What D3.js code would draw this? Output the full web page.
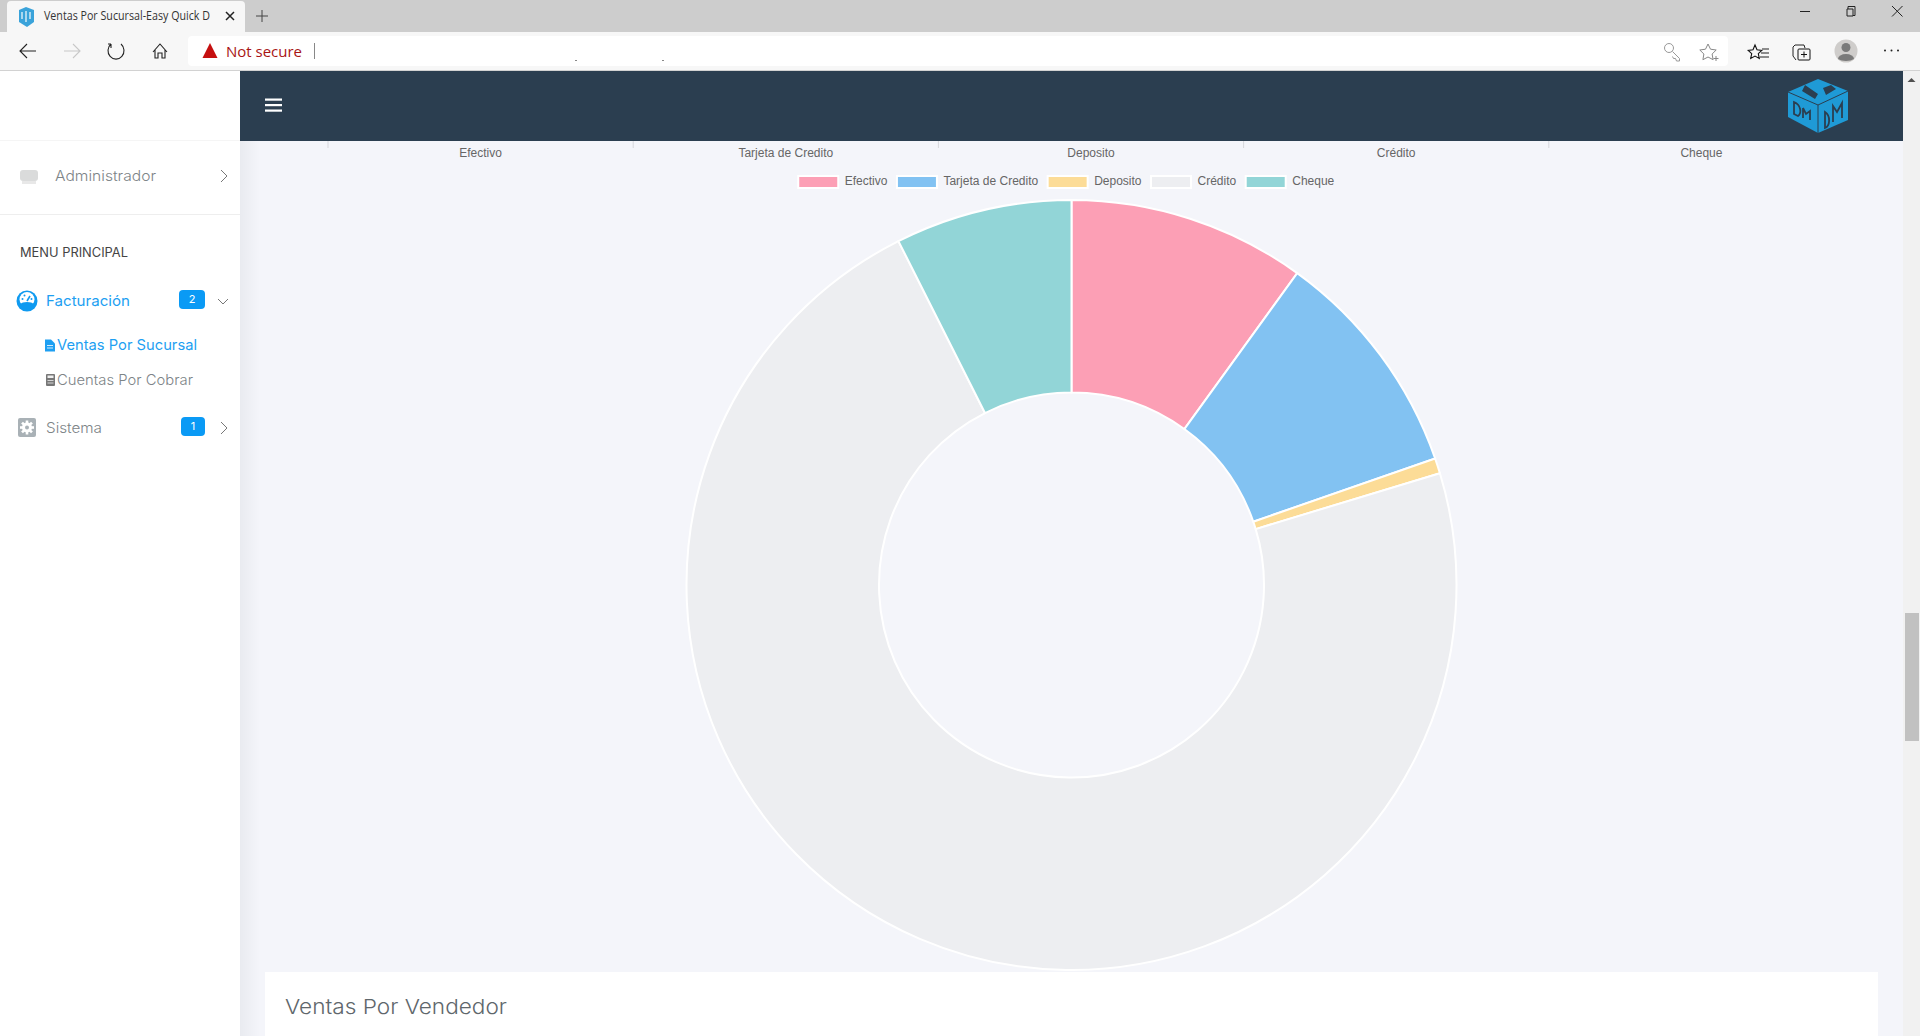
<!DOCTYPE html>
<html><head><meta charset="utf-8"><title>Ventas Por Sucursal</title>
<script src="https://cdnjs.cloudflare.com/ajax/libs/d3/7.8.5/d3.min.js"></script>
<style>html,body{margin:0;padding:0;overflow:hidden;background:#f4f5fa}svg{display:block}</style>
</head><body><svg id="c" width="1920" height="1036" viewBox="0 0 1920 1036"></svg>
<script>
const categories = ["Efectivo","Tarjeta de Credito","Deposito","Crédito","Cheque"];
const values = [99.7, 97, 6.4, 722.7, 74.2];
const colors = ["#fc9fb5","#82c2f2","#fcdc97","#edeef1","#92d5d7"];
const menuBadges = ["2","1"];

const svg = d3.select("#c");
const sans = "'Inter','Open Sans',sans-serif";
const rect=(x,y,w,h,f,r=0,g=svg)=>g.append("rect").attr("x",x).attr("y",y).attr("width",w).attr("height",h).attr("fill",f).attr("rx",r);
const path=(d,o={},g=svg)=>{const p=g.append("path").attr("d",d).attr("fill",o.fill||"none");if(o.stroke)p.attr("stroke",o.stroke).attr("stroke-width",o.w||1.2);return p;};
const circ=(x,y,r,f)=>svg.append("circle").attr("cx",x).attr("cy",y).attr("r",r).attr("fill",f);
const text=(x,y,s,size,col,len,fam=sans,anchor="start",wt=400)=>{const t=svg.append("text").attr("x",x).attr("y",y).attr("dy",".35em").attr("font-size",size).attr("font-family",fam).attr("font-weight",wt).attr("fill",col).attr("text-anchor",anchor).text(s);if(len)t.attr("textLength",len).attr("lengthAdjust","spacingAndGlyphs");return t;};

// page
rect(0,0,1920,1036,"#f4f5fa");
const defs=svg.append("defs");
const gr=defs.append("linearGradient").attr("id","sh");
gr.append("stop").attr("offset",0).attr("stop-color","#e9ebf0");
gr.append("stop").attr("offset",1).attr("stop-color","#f4f5fa");
rect(240,141,20,895,"url(#sh)");

// browser chrome
const ui="'Open Sans','Liberation Sans',sans-serif";
rect(0,0,1920,32,"#cdcdcd");
rect(0,32,1920,38,"#f7f7f7");
rect(0,70,1920,1,"#d2d2d2");
path("M7 32V5a4 4 0 0 1 4-4H241a4 4 0 0 1 4 4V32Z",{fill:"#f7f7f7"});
path("M19 10l7-3 8 3v12l-7 5-8-5Z",{fill:"#3aa3da"});
path("M22 12v7M26 11v11M30 12v7",{stroke:"#e8f4fb",w:1.3});
text(44,16,"Ventas Por Sucursal-Easy Quick D",12,"#333",166,ui);
path("M226 12l8 8M234 12l-8 8",{stroke:"#222",w:1.5});
path("M262 10v12M256 16h12",{stroke:"#444",w:1});
path("M1800 11.500h10",{stroke:"#222",w:1});
path("M1848 9V6.500h7v9h-2M1847 9h6v7h-6Z",{stroke:"#222",w:1});
path("M1892 6l10.500 10.500M1902.500 6l-10.500 10.500",{stroke:"#222",w:1});
path("M36 51H20M27 44l-7 7 7 7",{stroke:"#222",w:1.1});
path("M80 51H64M73 44l7 7-7 7",{stroke:"#c8c8c8",w:1.1});
path("M111 44a8 8.500 0 1 0 10 0M111 44v4M111 44h-3",{stroke:"#222",w:1.1});
path("M153 52l7-8 7 8M155 50v8h3v-5h4v5h3v-8",{stroke:"#222",w:1.1});
rect(188,36,1540,30,"#fff",4);
path("M210 43l7.500 15h-15Z",{fill:"#c50f0f"});
text(226,52,"Not secure",15,"#a81414",76,ui);
rect(314,43,1,16,"#888");
rect(575,60,2,1,"#888");rect(662,60,2,1,"#888");
svg.append("circle").attr("cx",1669).attr("cy",48).attr("r",4.500).attr("fill","none").attr("stroke","#999");
path("M1672.500 51.500l7 7v2.500h-3l-1-2.500h-2l-1-2",{stroke:"#999",w:1});
path("M1708 44l2.500 5.200 5.700.8-4.100 4 1 5.700-5.100-2.700-5.100 2.700 1-5.700-4.100-4 5.700-.8Z",{stroke:"#888",w:1});
path("M1716 56v5M1713.500 58.500h5",{stroke:"#888",w:1});
path("M1755 45l2 4.800 4.800.6-3.500 3.300 1 4.800-4.300-2.400-4.300 2.400 1-4.800-3.500-3.300 4.800-.6Z",{stroke:"#111",w:1.1});
path("M1762 49h7M1761 53h8M1760 57h9",{stroke:"#222",w:1.1});
path("M1795 45h9l1 3M1795 45l-2 2v9l3 4",{stroke:"#222",w:1});
rect(1798,49,12,11,"#f7f7f7",1).attr("stroke","#111");
path("M1804 51.500v6M1801 54.500h6",{stroke:"#111",w:1});
circ(1846,51,11.500,"#cfcdcb");
circ(1846,47.500,4.500,"#7a7a7a");
path("M1838 59a8 5 0 0 1 16 0a10 5 0 0 1-16 0Z",{fill:"#7a7a7a"});
[1885,1891.500,1898].forEach(x=>circ(x,50.500,1,"#222"));

// scrollbar
rect(1903,71,17,965,"#f1f1f1");
rect(1905,613,14,128,"#c1c1c1");
path("M1907.500 82l4-4 4 4Z",{fill:"#505050"});

// header
rect(240,71,1663,70,"#2b3e50");
[99.500,105,110.500].forEach(y=>rect(265,y-1,17,2.200,"#fff"));
const H="#2b3e50";
path("M1788 92l30-13 30 12v29l-30 13-30-16Z",{fill:"#1f9ad6"});
path("M1788 92l30 13 30-14M1818 105v28",{stroke:H,w:1});
path("M1805 85l13 9-3 5-13-8ZM1823 88l8-3 5 4-10 6Z",{fill:H});
path("M1794 102v12l4 2c4-3 3-11-4-14ZM1803 108v10M1803 108l3 6 4-3v9",{stroke:H,w:1.800});
path("M1825 112v16c5-2 6-12 0-16ZM1833 122v-16l4 6 5-9v15",{stroke:H,w:1.800});

// sidebar
rect(0,71,240,965,"#fff");
rect(0,140,240,1,"#f5f5f5");
rect(0,214,240,1,"#eeeeee");
const ms=sans;
rect(20,170,18,11,"#dadbdb",3);rect(22,181,14,3,"#e8e8e8");
text(55,176,"Administrador",14.500,"#7d8487",101,ms,"start",300);
const chev=(x,y)=>path(`M${x-3} ${y-6}l6 6-6 6`,{stroke:"#777",w:1});
chev(224,176);chev(224,428);
text(20,253,"MENU PRINCIPAL",12.500,"#444",108,ms);
circ(27,301,10.500,"#0f9af0");
circ(27,299.500,7.500,"#fff");
path("M20 304a8 4 0 0 1 14 0v3h-14Z",{fill:"#0f9af0"});
path("M27 301l3-5",{stroke:"#0f9af0",w:1.600});
[[22.500,299],[24.500,295.500],[31.500,299]].forEach(p=>circ(p[0],p[1],1,"#0f9af0"));
text(46,301,"Facturación",14.500,"#1e9ff2",84,ms);
rect(179,290,26,19,"#0a9af5",4);
text(192,299,menuBadges[0],11,"#fff",null,ms,"middle");
path("M218 299l5 5 5-5",{stroke:"#777",w:1});
path("M45 339.500h6l4 4v8H45Z",{fill:"#1e9ff2"});
path("M47 345.500h6M47 348h6",{stroke:"#fff",w:.8});
text(57,345,"Ventas Por Sucursal",14.500,"#1e9ff2",140,ms);
rect(46,374,9,12,"#777",1);rect(47.500,375.500,6,2.500,"#eee");
path("M47.500 380.500h6M47.500 383h6",{stroke:"#eee",w:.8,});
text(57,380,"Cuentas Por Cobrar",14.500,"#7d8487",136,ms,"start",300);
rect(18,418,18,19,"#a9b1b6",2);
d3.range(0,180,45).forEach(a=>path(`M27 420.500v14`,{stroke:"#fff",w:2.600}).attr("transform",`rotate(${a} 27 427.500)`));
circ(27,427.500,5,"#fff");
circ(27,427.500,2,"#a9b1b6");
text(46,428,"Sistema",14.500,"#7d8487",56,ms,"start",300);
rect(181,417,24,19,"#0a9af5",4);
text(193,426,menuBadges[1],11,"#fff",null,ms,"middle");

// cut-off bar chart axis above the doughnut
const arial="'Liberation Sans',Arial,sans-serif";
const band=d3.scaleBand().domain(categories).range([328,1854]);
const ax=svg.append("g").attr("transform","translate(0,141)");
ax.selectAll("line").data(categories).join("line")
 .attr("x1",d=>band(d)).attr("x2",d=>band(d)).attr("y1",0).attr("y2",7).attr("stroke","rgba(0,0,0,.12)");
ax.selectAll("text").data(categories).join("text")
 .attr("x",d=>band(d)+band.bandwidth()/2).attr("y",12).attr("dy",".35em").attr("text-anchor","middle")
 .attr("font-family",arial).attr("font-size",12).attr("fill","#666").text(d=>d);

// doughnut
const cx=1071.5, cy=585, R=385;
const pie=d3.pie().sort(null).value(d=>d)(values);
const arc=d3.arc().innerRadius(R*0.5).outerRadius(R);
svg.append("g").attr("transform",`translate(${cx},${cy})`).selectAll("path").data(pie).join("path")
 .attr("d",arc).attr("fill",(d,i)=>colors[i]).attr("stroke","#fff").attr("stroke-width",2);

// legend
const lg=svg.append("g");
const items=lg.selectAll("g").data(categories).join("g");
items.append("rect").attr("width",40).attr("height",12).attr("y",176).attr("fill",(d,i)=>colors[i]).attr("stroke","#fff").attr("stroke-width",2);
items.append("text").attr("x",46.5).attr("y",181).attr("dy",".35em").attr("font-family",arial).attr("font-size",12).attr("fill","#666").text(d=>d);
let widths=[];items.select("text").each(function(){widths.push(40+6+this.getComputedTextLength()+10);});
let px=cx-0.5-d3.sum(widths)/2;
items.attr("transform",(d,i)=>{const t=`translate(${px},0)`;px+=widths[i];return t;});

// next card
rect(265,972,1613,64,"#fff");
text(285,1007,"Ventas Por Vendedor",20.500,"#5f676c",222,ms,"start",300);
</script></body></html>
